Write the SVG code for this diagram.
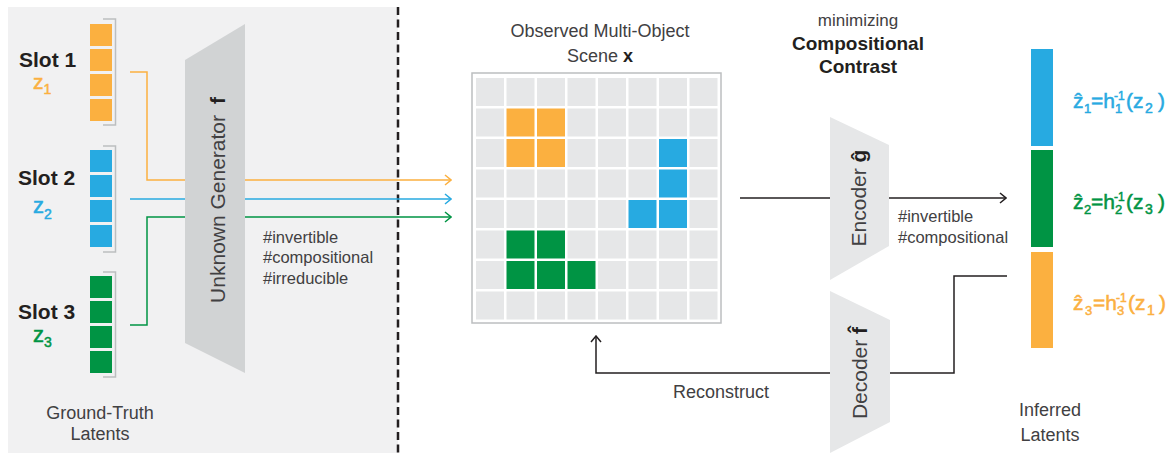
<svg xmlns="http://www.w3.org/2000/svg" width="1170" height="453" viewBox="0 0 1170 453">
  <style>
    text { font-family: "Liberation Sans", Arial, Helvetica, sans-serif; fill: #231f20; }
    .slot { font-size: 21px; font-weight: bold; }
    .lbl { font-size: 18px; fill: #414042; }
    .tag { font-size: 16.5px; fill: #414042; }
    .rot { font-size: 21px; fill: #414042; }
    .cell { fill: #e6e7e8; }
    .o { fill: #fbb040; }
    .b { fill: #27aae1; }
    .g { fill: #009444; }
    .zo { fill: #fbb040; stroke: #fbb040; stroke-width: 0.5; }
    .zb { fill: #27aae1; stroke: #27aae1; stroke-width: 0.5; }
    .zg { fill: #009444; stroke: #009444; stroke-width: 0.5; }
    .bracket { fill: none; stroke: #bcbec0; stroke-width: 1.5; }
    .wire { fill: none; stroke-width: 1.5; }
    .blk { fill: none; stroke: #231f20; stroke-width: 1.5; }
  </style>
  <defs>
    <marker id="arrO" viewBox="0 0 10 12" refX="9" refY="6" markerWidth="10" markerHeight="12" markerUnits="userSpaceOnUse" orient="auto">
      <path d="M3,1 L9,6 L3,11" fill="none" stroke="#fbb040" stroke-width="1.5"/>
    </marker>
    <marker id="arrB" viewBox="0 0 10 12" refX="9" refY="6" markerWidth="10" markerHeight="12" markerUnits="userSpaceOnUse" orient="auto">
      <path d="M3,1 L9,6 L3,11" fill="none" stroke="#27aae1" stroke-width="1.5"/>
    </marker>
    <marker id="arrG" viewBox="0 0 10 12" refX="9" refY="6" markerWidth="10" markerHeight="12" markerUnits="userSpaceOnUse" orient="auto">
      <path d="M3,1 L9,6 L3,11" fill="none" stroke="#009444" stroke-width="1.5"/>
    </marker>
    <marker id="arrK" viewBox="0 0 10 12" refX="9" refY="6" markerWidth="10" markerHeight="12" markerUnits="userSpaceOnUse" orient="auto">
      <path d="M3,1 L9,6 L3,11" fill="none" stroke="#231f20" stroke-width="1.5"/>
    </marker>
  </defs>

  <!-- ground-truth panel background and divider -->
  <rect x="8" y="7" width="390" height="446" fill="#f1f1f2"/>
  <line x1="398" y1="7" x2="398" y2="453" stroke="#231f20" stroke-width="2.5" stroke-dasharray="8,4.5"/>

  <!-- connectors -->
  <g id="connectors">
    <path class="wire" stroke="#fbb040" d="M130,72 H147 V180 H451" marker-end="url(#arrO)"/>
    <path class="wire" stroke="#27aae1" d="M130,199 H451" marker-end="url(#arrB)"/>
    <path class="wire" stroke="#009444" d="M130,325 H147 V217 H451" marker-end="url(#arrG)"/>
    <path class="blk" d="M740,198 H830"/>
    <path class="blk" d="M889,198 H1006" marker-end="url(#arrK)"/>
    <path class="blk" d="M1007,276 H954 V373 H890"/>
    <path class="blk" d="M830,373 H596 V336" marker-end="url(#arrK)"/>
  </g>

  <!-- slot 1 -->
  <g id="slot1">
    <text class="slot" x="19" y="67">Slot 1</text>
    <text class="zo" x="33" y="89" font-size="21">z<tspan font-size="14" dy="5">1</tspan></text>
    <rect class="o" x="90" y="24" width="22" height="22"/>
    <rect class="o" x="90" y="49" width="22" height="22"/>
    <rect class="o" x="90" y="74" width="22" height="22"/>
    <rect class="o" x="90" y="99" width="22" height="22"/>
    <path class="bracket" d="M103,19 H115.5 V125 H103"/>
  </g>

  <!-- slot 2 -->
  <g id="slot2">
    <text class="slot" x="18" y="185">Slot 2</text>
    <text class="zb" x="33" y="213" font-size="22">z<tspan font-size="14" dy="6">2</tspan></text>
    <rect class="b" x="90" y="150" width="22" height="22"/>
    <rect class="b" x="90" y="175" width="22" height="22"/>
    <rect class="b" x="90" y="200" width="22" height="22"/>
    <rect class="b" x="90" y="225" width="22" height="22"/>
    <path class="bracket" d="M103,146 H115.5 V252 H103"/>
  </g>

  <!-- slot 3 -->
  <g id="slot3">
    <text class="slot" x="18" y="319">Slot 3</text>
    <text class="zg" x="33" y="342" font-size="22">z<tspan font-size="14" dy="5">3</tspan></text>
    <rect class="g" x="90" y="276" width="22" height="22"/>
    <rect class="g" x="90" y="301" width="22" height="22"/>
    <rect class="g" x="90" y="326" width="22" height="22"/>
    <rect class="g" x="90" y="351" width="22" height="22"/>
    <path class="bracket" d="M103,272 H115.5 V377 H103"/>
  </g>

  <g id="gt-label">
    <text class="lbl" x="100" y="419" text-anchor="middle" font-size="17">Ground-Truth</text>
    <text class="lbl" x="100" y="440" text-anchor="middle" font-size="17">Latents</text>
  </g>

  <!-- unknown generator -->
  <g id="generator">
    <polygon points="185,60 245,24 245,373 185,343" fill="#d1d3d4"/>
    <text class="rot" font-size="24" transform="translate(225,200) rotate(-90)" text-anchor="middle">Unknown Generator <tspan font-weight="bold" dx="5" style="fill:#231f20">f</tspan></text>
  </g>
  <g id="generator-tags">
    <text class="tag" x="263" y="243">#invertible</text>
    <text class="tag" x="263" y="263">#compositional</text>
    <text class="tag" x="263" y="284">#irreducible</text>
  </g>

  <!-- observed scene -->
  <g id="scene">
    <text class="lbl" x="600" y="37" text-anchor="middle" font-size="18.5">Observed Multi-Object</text>
    <text class="lbl" x="600" y="62" text-anchor="middle" font-size="18.5">Scene <tspan font-weight="bold" style="fill:#231f20">x</tspan></text>
    <rect x="472" y="73" width="249" height="250" fill="#ffffff" stroke="#bcbec0" stroke-width="1.5"/>
    <g>
      <rect class="cell" x="476" y="78" width="28" height="28"/><rect class="cell" x="506.5" y="78" width="28" height="28"/><rect class="cell" x="537" y="78" width="28" height="28"/><rect class="cell" x="567.5" y="78" width="28" height="28"/><rect class="cell" x="598" y="78" width="28" height="28"/><rect class="cell" x="628.5" y="78" width="28" height="28"/><rect class="cell" x="659" y="78" width="28" height="28"/><rect class="cell" x="689.5" y="78" width="28" height="28"/>
      <rect class="cell" x="476" y="108.5" width="28" height="28"/><rect class="o" x="506.5" y="108.5" width="28" height="28"/><rect class="o" x="537" y="108.5" width="28" height="28"/><rect class="cell" x="567.5" y="108.5" width="28" height="28"/><rect class="cell" x="598" y="108.5" width="28" height="28"/><rect class="cell" x="628.5" y="108.5" width="28" height="28"/><rect class="cell" x="659" y="108.5" width="28" height="28"/><rect class="cell" x="689.5" y="108.5" width="28" height="28"/>
      <rect class="cell" x="476" y="139" width="28" height="28"/><rect class="o" x="506.5" y="139" width="28" height="28"/><rect class="o" x="537" y="139" width="28" height="28"/><rect class="cell" x="567.5" y="139" width="28" height="28"/><rect class="cell" x="598" y="139" width="28" height="28"/><rect class="cell" x="628.5" y="139" width="28" height="28"/><rect class="b" x="659" y="139" width="28" height="28"/><rect class="cell" x="689.5" y="139" width="28" height="28"/>
      <rect class="cell" x="476" y="169.5" width="28" height="28"/><rect class="cell" x="506.5" y="169.5" width="28" height="28"/><rect class="cell" x="537" y="169.5" width="28" height="28"/><rect class="cell" x="567.5" y="169.5" width="28" height="28"/><rect class="cell" x="598" y="169.5" width="28" height="28"/><rect class="cell" x="628.5" y="169.5" width="28" height="28"/><rect class="b" x="659" y="169.5" width="28" height="28"/><rect class="cell" x="689.5" y="169.5" width="28" height="28"/>
      <rect class="cell" x="476" y="200" width="28" height="28"/><rect class="cell" x="506.5" y="200" width="28" height="28"/><rect class="cell" x="537" y="200" width="28" height="28"/><rect class="cell" x="567.5" y="200" width="28" height="28"/><rect class="cell" x="598" y="200" width="28" height="28"/><rect class="b" x="628.5" y="200" width="28" height="28"/><rect class="b" x="659" y="200" width="28" height="28"/><rect class="cell" x="689.5" y="200" width="28" height="28"/>
      <rect class="cell" x="476" y="230.5" width="28" height="28"/><rect class="g" x="506.5" y="230.5" width="28" height="28"/><rect class="g" x="537" y="230.5" width="28" height="28"/><rect class="cell" x="567.5" y="230.5" width="28" height="28"/><rect class="cell" x="598" y="230.5" width="28" height="28"/><rect class="cell" x="628.5" y="230.5" width="28" height="28"/><rect class="cell" x="659" y="230.5" width="28" height="28"/><rect class="cell" x="689.5" y="230.5" width="28" height="28"/>
      <rect class="cell" x="476" y="261" width="28" height="28"/><rect class="g" x="506.5" y="261" width="28" height="28"/><rect class="g" x="537" y="261" width="28" height="28"/><rect class="g" x="567.5" y="261" width="28" height="28"/><rect class="cell" x="598" y="261" width="28" height="28"/><rect class="cell" x="628.5" y="261" width="28" height="28"/><rect class="cell" x="659" y="261" width="28" height="28"/><rect class="cell" x="689.5" y="261" width="28" height="28"/>
      <rect class="cell" x="476" y="291.5" width="28" height="28"/><rect class="cell" x="506.5" y="291.5" width="28" height="28"/><rect class="cell" x="537" y="291.5" width="28" height="28"/><rect class="cell" x="567.5" y="291.5" width="28" height="28"/><rect class="cell" x="598" y="291.5" width="28" height="28"/><rect class="cell" x="628.5" y="291.5" width="28" height="28"/><rect class="cell" x="659" y="291.5" width="28" height="28"/><rect class="cell" x="689.5" y="291.5" width="28" height="28"/>
    </g>
  </g>

  <!-- objective title -->
  <g id="objective">
    <text x="858" y="26" text-anchor="middle" font-size="17" style="fill:#414042">minimizing</text>
    <text x="858" y="50" text-anchor="middle" font-size="19" font-weight="bold">Compositional</text>
    <text x="858" y="73" text-anchor="middle" font-size="19" font-weight="bold">Contrast</text>
  </g>

  <!-- encoder -->
  <g id="encoder">
    <polygon points="830,117 889,145 889,246 830,280" fill="#e6e7e8"/>
    <text class="rot" transform="translate(866,198) rotate(-90)" text-anchor="middle">Encoder <tspan font-weight="bold" style="fill:#231f20">ĝ</tspan></text>
  </g>
  <g id="encoder-tags">
    <text class="tag" x="898" y="222">#invertible</text>
    <text class="tag" x="898" y="243">#compositional</text>
  </g>

  <!-- decoder -->
  <g id="decoder">
    <polygon points="830,291 890,320 890,422 830,453" fill="#e6e7e8"/>
    <text class="rot" transform="translate(867,373) rotate(-90)" text-anchor="middle">Decoder <tspan font-weight="bold" style="fill:#231f20">f&#x302;</tspan></text>
  </g>

  <g id="reconstruct-label">
    <text class="lbl" x="721" y="398" text-anchor="middle">Reconstruct</text>
  </g>

  <!-- inferred latents -->
  <g id="latent1">
    <rect class="b" x="1031" y="49" width="22" height="97"/>
    <text class="zb" font-size="21" stroke-width="0.35"><tspan x="1073" y="108">ẑ</tspan><tspan x="1084" y="113" font-size="13">1</tspan><tspan x="1091" y="108">=h</tspan><tspan x="1114" y="100" font-size="12">-1</tspan><tspan x="1115" y="113" font-size="13">1</tspan><tspan x="1126" y="108">(z</tspan><tspan x="1145" y="113" font-size="14">2</tspan><tspan x="1158" y="108">)</tspan></text>
  </g>
  <g id="latent2">
    <rect class="g" x="1031" y="150" width="22" height="97"/>
    <text class="zg" font-size="21" stroke-width="0.35"><tspan x="1073" y="209">ẑ</tspan><tspan x="1084" y="214" font-size="13">2</tspan><tspan x="1091" y="209">=h</tspan><tspan x="1114" y="201" font-size="12">-1</tspan><tspan x="1115" y="214" font-size="13">2</tspan><tspan x="1126" y="209">(z</tspan><tspan x="1145" y="214" font-size="14">3</tspan><tspan x="1158" y="209">)</tspan></text>
  </g>
  <g id="latent3">
    <rect class="o" x="1031" y="252" width="22" height="96"/>
    <text class="zo" font-size="21" stroke-width="0.35"><tspan x="1073" y="310">ẑ</tspan><tspan x="1085" y="315" font-size="13">3</tspan><tspan x="1093" y="310">=h</tspan><tspan x="1116" y="302" font-size="12">-1</tspan><tspan x="1117" y="315" font-size="13">3</tspan><tspan x="1128" y="310">(z</tspan><tspan x="1147" y="315" font-size="14">1</tspan><tspan x="1159" y="310">)</tspan></text>
  </g>
  <g id="inferred-label">
    <text class="lbl" x="1050" y="416" text-anchor="middle" font-size="17">Inferred</text>
    <text class="lbl" x="1050" y="441" text-anchor="middle" font-size="17">Latents</text>
  </g>
</svg>
